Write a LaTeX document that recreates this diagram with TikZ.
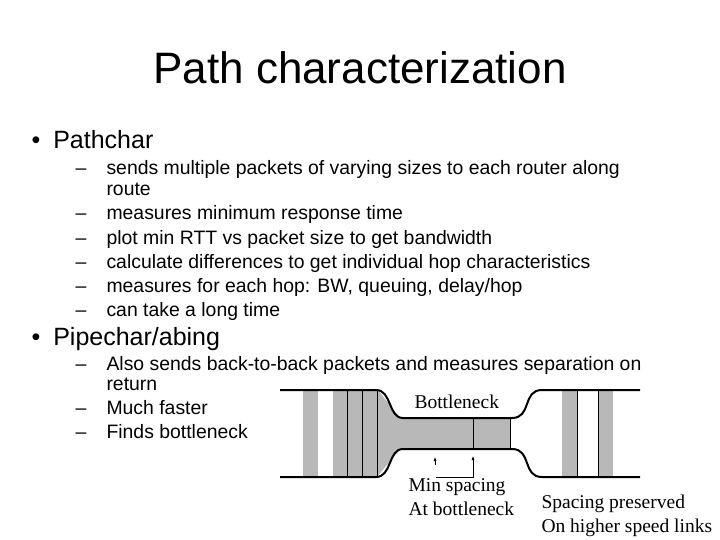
\documentclass[tikz,border=0pt]{standalone}
\usepackage{fontspec}
\usetikzlibrary{arrows.meta}
\setmainfont{Liberation Sans}
\newfontfamily\serifx{Liberation Serif}
\begin{document}
\begin{tikzpicture}[x=1pt,y=-1pt,
  title/.style={anchor=base,font=\fontsize{44}{48}\selectfont},
  lvl1/.style={anchor=base west,font=\fontsize{25}{28}\selectfont},
  lvl2/.style={anchor=base west,font=\fontsize{19.4}{22}\selectfont},
  lab/.style={anchor=base west,font=\serifx\fontsize{19.5}{22}\selectfont},
  pkt/.style={fill=black!28},
  pipe/.style={line width=2pt},
  thin/.style={line width=0.6pt}]
\useasboundingbox (0,0) rectangle (720,540);
\node[title] (t) at (360,84) {Path characterization};
\node[lvl1] (b1) at (28,149) {•\hspace{13pt}Pathchar};
\node[lvl2] (s1) at (72,175) {–}; \node[lvl2] (u1) at (103,175) {sends multiple packets of varying sizes to each router along};
\node[lvl2] (u2) at (103,196) {route};
\node[lvl2] (s3) at (72,220) {–}; \node[lvl2] (u3) at (103,220) {measures minimum response time};
\node[lvl2] (s4) at (72,244) {–}; \node[lvl2] (u4) at (103,244) {plot min RTT vs packet size to get bandwidth};
\node[lvl2] (s5) at (72,268) {–}; \node[lvl2] (u5) at (103,268) {calculate differences to get individual hop characteristics};
\node[lvl2] (s6) at (72,292) {–}; \node[lvl2] (u6) at (103,292) {measures for each hop: BW, queuing, delay/hop};
\node[lvl2] (s7) at (72,316) {–}; \node[lvl2] (u7) at (103,316) {can take a long time};
\node[lvl1] (b2) at (28,345) {•\hspace{13pt}Pipechar/abing};
\node[lvl2] (p1) at (72,370) {–};
\node[lvl2] (q1) at (103,370) {Also sends back-to-back packets and measures separation on};
\node[lvl2] (q0) at (103,390) {return};
\node[lvl2] (p2) at (72,414) {–};
\node[lvl2] (q2) at (103,414) {Much faster};
\node[lvl2] (p3) at (72,438) {–};
\node[lvl2] (q3) at (103,438) {Finds bottleneck};
% packets
\fill[pkt] (303,390) rectangle (318,477);
\fill[pkt] (333,390) rectangle (377,477);
\fill[pkt] (377,390) -- (378,390) -- (400,418) -- (400,449) -- (377,477) -- cycle;
\fill[pkt] (400,418) rectangle (510,449);
\fill[pkt] (562,390) rectangle (577,477);
\fill[pkt] (598,390) rectangle (613,477);
\draw[thin] (347,390) -- (347,477) (362,390) -- (362,477) (377,390) -- (377,477)
  (473,418) -- (473,449) (510,418) -- (510,449) (577,390) -- (577,477) (598,390) -- (598,477);
% pipe outline
\draw[pipe] (280,390) -- (376,390) .. controls (392,390) and (388,418) .. (403,418) -- (512,418)
  .. controls (532,418) and (522,390) .. (542,390) -- (640,390);
\draw[pipe] (280,477) -- (376,477) .. controls (392,477) and (388,449) .. (403,449) -- (512,449)
  .. controls (532,449) and (522,477) .. (542,477) -- (640,477);
\node[lab] (bn) at (411,408) {Bottleneck};
% markers
\draw[-{Latex[length=4pt,width=3pt]},thin] (435,465) -- (435,457);
\draw[-{Latex[length=4pt,width=3pt]},thin] (473,465) -- (473,456);
\draw[thin] (473,465) -- (473,477) -- (436,477);
\node[lab] (ms) at (405,491) {Min spacing};
\node[lab] (ms2) at (405,515) {At bottleneck};
\node[lab] (sp) at (538,508) {Spacing preserved};
\node[lab] (sp2) at (538,532) {On higher speed links};
\end{tikzpicture}
\end{document}
